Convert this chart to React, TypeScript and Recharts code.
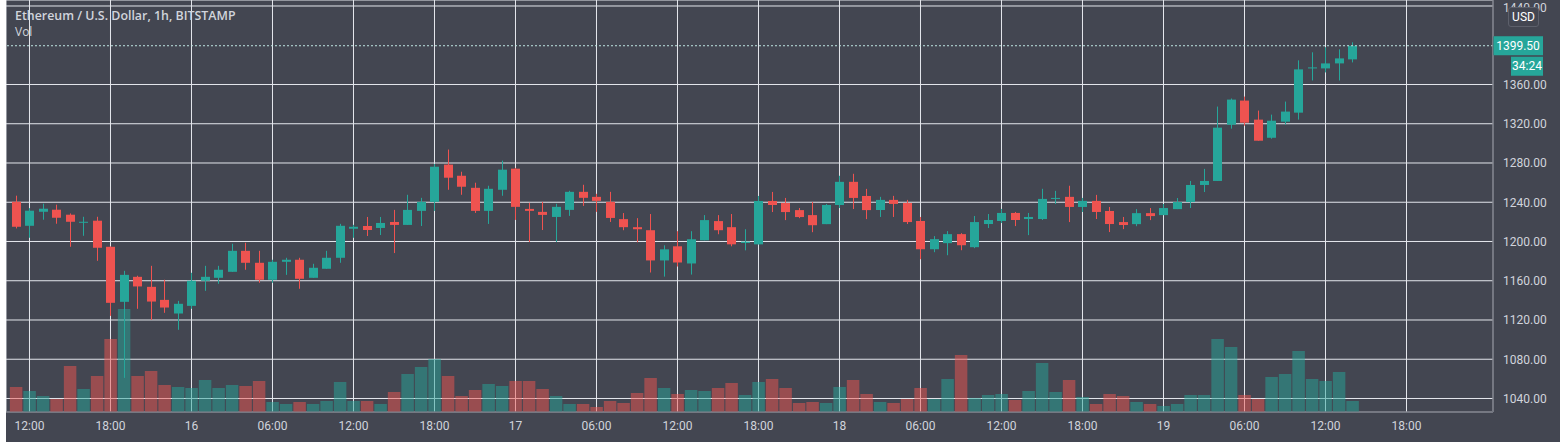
import { ComposedChart, Bar, XAxis, YAxis, CartesianGrid, ReferenceLine } from "recharts";

const UP = "#26a69a";
const DOWN = "#ef5350";
const BG = "#434651";
const GRID = "#e4e6ec";
const TEXT = "#d1d4dc";

// ETH/USD 1h candles, 15 Jan 11:00 -> 19 Jan 14:00 (hour 0 = 15 Jan 12:00)
const opens = [
  1240.5, 1216.0, 1230.3, 1232.4, 1227.3, 1219.5, 1221.2, 1194.6, 1138.5, 1164.0,
  1153.8, 1140.5, 1126.6, 1134.4, 1160.0, 1163.0, 1169.1, 1190.5, 1178.3, 1161.0,
  1179.3, 1181.4, 1163.0, 1172.2, 1183.4, 1213.0, 1215.8, 1213.8, 1219.9, 1216.9,
  1231.2, 1240.4, 1278.3, 1267.0, 1254.7, 1231.2, 1252.7, 1274.2, 1233.2, 1230.2,
  1225.0, 1232.2, 1250.6, 1245.5, 1240.4, 1222.8, 1214.6, 1211.5, 1180.7, 1195.1,
  1177.6, 1201.2, 1220.8, 1214.6, 1198.5, 1197.1, 1241.3, 1239.2, 1232.0, 1226.9,
  1217.7, 1237.2, 1260.8, 1246.4, 1232.1, 1242.4, 1239.3, 1220.9, 1192.1, 1198.3,
  1207.5, 1194.2, 1217.8, 1220.9, 1229.1, 1222.9, 1222.9, 1243.8, 1245.5, 1235.2,
  1241.4, 1231.1, 1219.8, 1217.7, 1228.9, 1226.9, 1233.0, 1240.2, 1257.6, 1261.7,
  1319.0, 1343.6, 1324.2, 1305.7, 1322.1, 1331.3, 1376.7, 1376.4, 1381.5, 1385.6,
];
const highs = [
  1246.7, 1234.0, 1238.5, 1237.5, 1228.6, 1225.2, 1225.2, 1195.0, 1170.1, 1165.1,
  1175.2, 1161.0, 1139.5, 1168.1, 1175.2, 1175.2, 1197.7, 1198.7, 1190.5, 1181.4,
  1183.4, 1183.4, 1177.3, 1190.5, 1218.0, 1217.0, 1225.0, 1225.0, 1232.2, 1247.6,
  1244.5, 1279.0, 1293.7, 1271.1, 1259.9, 1256.8, 1282.4, 1275.0, 1239.4, 1240.4,
  1238.4, 1251.7, 1257.8, 1248.6, 1250.6, 1229.0, 1223.8, 1228.0, 1196.1, 1210.5,
  1210.5, 1226.9, 1226.9, 1228.0, 1212.5, 1246.4, 1250.5, 1244.4, 1234.1, 1240.3,
  1238.2, 1267.0, 1269.0, 1253.6, 1245.5, 1246.5, 1242.4, 1225.0, 1205.5, 1210.6,
  1208.5, 1226.0, 1228.0, 1233.2, 1230.1, 1229.1, 1253.7, 1251.6, 1256.8, 1244.4,
  1247.5, 1235.2, 1225.0, 1233.0, 1234.1, 1238.2, 1244.3, 1261.7, 1274.0, 1337.5,
  1345.7, 1347.7, 1333.4, 1329.3, 1342.6, 1384.6, 1392.8, 1398.0, 1395.8, 1403.0,
];
const lows = [
  1213.3, 1203.8, 1222.2, 1218.1, 1194.6, 1205.8, 1180.3, 1124.2, 1061.0, 1131.4,
  1120.1, 1127.3, 1110.0, 1131.4, 1149.7, 1156.9, 1169.1, 1171.2, 1157.9, 1157.9,
  1166.0, 1151.8, 1163.0, 1172.2, 1178.3, 1203.8, 1205.6, 1206.6, 1188.2, 1216.9,
  1215.8, 1231.2, 1252.7, 1247.6, 1229.1, 1217.9, 1246.6, 1222.0, 1199.5, 1211.7,
  1199.5, 1226.1, 1236.3, 1230.2, 1219.9, 1211.5, 1199.2, 1168.4, 1164.2, 1174.5,
  1166.3, 1201.2, 1207.4, 1195.1, 1191.0, 1197.1, 1230.0, 1221.8, 1223.8, 1209.5,
  1217.7, 1234.1, 1233.1, 1222.8, 1225.0, 1225.0, 1217.8, 1181.9, 1189.1, 1186.0,
  1191.1, 1193.2, 1213.7, 1218.8, 1215.7, 1206.5, 1221.9, 1238.3, 1219.8, 1230.1,
  1222.9, 1209.6, 1212.6, 1215.6, 1221.8, 1226.9, 1233.0, 1234.1, 1250.4, 1261.7,
  1315.0, 1318.0, 1302.7, 1304.7, 1319.0, 1324.2, 1364.1, 1372.3, 1364.1, 1382.5,
];
const closes = [
  1215.0, 1231.4, 1233.4, 1224.2, 1220.1, 1220.1, 1193.6, 1137.5, 1166.0, 1154.2,
  1138.8, 1132.7, 1136.5, 1160.0, 1164.0, 1171.2, 1190.5, 1178.3, 1161.0, 1179.3,
  1181.4, 1162.0, 1173.2, 1183.4, 1216.0, 1215.0, 1211.7, 1218.9, 1216.9, 1232.2,
  1240.4, 1276.2, 1265.0, 1255.8, 1231.2, 1253.7, 1273.2, 1235.3, 1231.2, 1227.1,
  1235.3, 1250.6, 1244.5, 1241.4, 1224.0, 1214.6, 1212.5, 1180.7, 1192.0, 1178.6,
  1202.3, 1221.8, 1211.5, 1197.1, 1199.9, 1241.3, 1237.2, 1230.0, 1224.9, 1216.6,
  1237.2, 1260.8, 1244.4, 1232.0, 1242.4, 1238.3, 1219.8, 1192.1, 1202.4, 1207.5,
  1196.2, 1219.8, 1221.9, 1229.1, 1221.9, 1225.0, 1243.4, 1244.4, 1235.2, 1241.4,
  1230.1, 1217.8, 1216.8, 1228.9, 1225.9, 1234.1, 1240.2, 1257.6, 1261.7, 1316.0,
  1344.6, 1321.1, 1302.7, 1323.1, 1332.4, 1375.4, 1377.4, 1381.5, 1386.6, 1399.5,
];
const volumes = [
  25, 21, 16, 13, 46, 23, 36, 73, 103, 36,
  41, 27, 25, 24, 32, 24, 27, 26, 31, 10,
  8, 10, 8, 11, 30, 11, 11, 8, 20, 38,
  45, 53, 36, 16, 22, 28, 26, 31, 31, 23,
  16, 8, 8, 5, 11, 9, 19, 34, 24, 18,
  22, 21, 24, 29, 17, 30, 33, 24, 9, 10,
  9, 25, 32, 18, 10, 9, 13, 24, 13, 33,
  57, 14, 17, 18, 12, 21, 49, 20, 32, 15,
  8, 18, 16, 10, 8, 6, 8, 17, 17, 73,
  65, 17, 13, 35, 38, 61, 33, 31, 40, 11,
];

const timeTicks = [0, 6, 12, 18, 24, 30, 36, 42, 48, 54, 60, 66, 72, 78, 84, 90, 96, 102];
const timeLabels = [
  "12:00", "18:00", "16", "06:00", "12:00", "18:00", "17", "06:00", "12:00",
  "18:00", "18", "06:00", "12:00", "18:00", "19", "06:00", "12:00", "18:00",
];
// 1400 is hidden behind the last-price tag, as on the original
const priceTicks = [1040, 1080, 1120, 1160, 1200, 1240, 1280, 1320, 1360, 1440];
const lastPrice = 1399.5;
const countdown = "34:24";

const data = opens.map((o, i) => ({
  h: i - 1,
  open: o,
  high: highs[i],
  low: lows[i],
  close: closes[i],
  range: [lows[i], highs[i]],
  vol: volumes[i],
}));

function Candle(props: any) {
  const { x, y, width, height, payload } = props;
  const { open, close, high, low } = payload;
  const cx = Math.floor(x + width / 2) + 0.5;
  const top = Math.min(y, y + height);
  const h = Math.abs(height);
  const k = h / (high - low);
  const bTop = top + (high - Math.max(open, close)) * k;
  const bBot = top + (high - Math.min(open, close)) * k;
  const color = close >= open ? UP : DOWN;
  return (
    <g>
      <line x1={cx} x2={cx} y1={top} y2={top + h} stroke={color} strokeWidth={1} />
      <rect x={cx - 4.5} y={bTop} width={9} height={Math.max(1, bBot - bTop)} fill={color} />
    </g>
  );
}

function VolBar(props: any) {
  const { x, y, width, height, payload } = props;
  const cx = x + width / 2;
  const color = payload.close >= payload.open ? UP : DOWN;
  return <rect x={cx - 6.25} y={y} width={12.5} height={height} fill={color} fillOpacity={0.5} />;
}

function PriceTag(props: any) {
  const { viewBox } = props;
  const x = viewBox.x + viewBox.width;
  const y = viewBox.y;
  return (
    <g>
      <rect x={x} y={y - 9.5} width={50} height={19} fill={UP} />
      <text x={x + 25} y={y + 4} fill="#ffffff" fontSize={12} textAnchor="middle">
        {lastPrice.toFixed(2)}
      </text>
      <rect x={x + 18} y={y + 11} width={32} height={19} fill={UP} />
      <text x={x + 34} y={y + 24.5} fill="#ffffff" fontSize={12} textAnchor="middle">
        {countdown}
      </text>
    </g>
  );
}

export default function App() {
  return (
    <div style={{ position: "relative", width: 1560, height: 442, background: "#ffffff", fontFamily: "Roboto, sans-serif" }}>
      <style>{`body{margin:0}`}</style>
      <div style={{ position: "absolute", left: 6, top: 0, width: 1554, height: 442, background: BG }}>
        <ComposedChart width={1554} height={442} data={data} margin={{ top: 0, right: 0, bottom: 0, left: 0 }}>
          <CartesianGrid xAxisId="t" yAxisId="p" stroke={GRID} strokeWidth={1} />
          <XAxis
            xAxisId="t"
            dataKey="h"
            type="number"
            domain={[-1.7407, 108.4074]}
            allowDataOverflow
            ticks={timeTicks}
            tickFormatter={(v: number) => timeLabels[timeTicks.indexOf(v)] ?? ""}
            height={30}
            tickSize={0}
            tickMargin={9}
            axisLine={{ stroke: "#585b66" }}
            tick={{ fill: TEXT, fontSize: 12 }}
          />
          <XAxis xAxisId="v" dataKey="h" type="number" domain={[-1.7407, 108.4074]} allowDataOverflow hide />
          <YAxis
            yAxisId="p"
            orientation="right"
            width={67}
            domain={[1026.24, 1446.11]}
            allowDataOverflow
            ticks={priceTicks}
            tickFormatter={(v: number) => v.toFixed(2)}
            tickSize={0}
            tickMargin={10}
            axisLine={{ stroke: "#585b66" }}
            tick={{ fill: TEXT, fontSize: 12, textAnchor: "start" }}
          />
          <YAxis yAxisId="v" domain={[0, 412]} hide />
          <Bar xAxisId="t" yAxisId="p" dataKey="range" shape={Candle} isAnimationActive={false} />
          <Bar xAxisId="v" yAxisId="v" dataKey="vol" shape={VolBar} isAnimationActive={false} />
          <ReferenceLine
            xAxisId="t"
            yAxisId="p"
            y={lastPrice}
            stroke="#bfe6e2"
            strokeDasharray="2 2"
            label={<PriceTag />}
          />
        </ComposedChart>
        <div style={{ position: "absolute", left: 9, top: 8, color: TEXT, fontSize: 12.4, fontWeight: 600, fontFamily: "'Open Sans', sans-serif", lineHeight: "15px", pointerEvents: "none" }}>
          Ethereum / U.S. Dollar, 1h, BITSTAMP
        </div>
        <div style={{ position: "absolute", left: 9, top: 24, color: TEXT, fontSize: 12, fontFamily: "'Open Sans', sans-serif", lineHeight: "15px", pointerEvents: "none" }}>
          Vol
        </div>
        <div
          style={{
            position: "absolute",
            left: 1502,
            top: 7,
            width: 29,
            height: 18,
            border: "1px solid #5d606b",
            borderRadius: 3,
            background: BG,
            color: "#ffffff",
            fontSize: 12,
            lineHeight: "18px",
            textAlign: "center",
          }}
        >
          USD
        </div>
      </div>
    </div>
  );
}
